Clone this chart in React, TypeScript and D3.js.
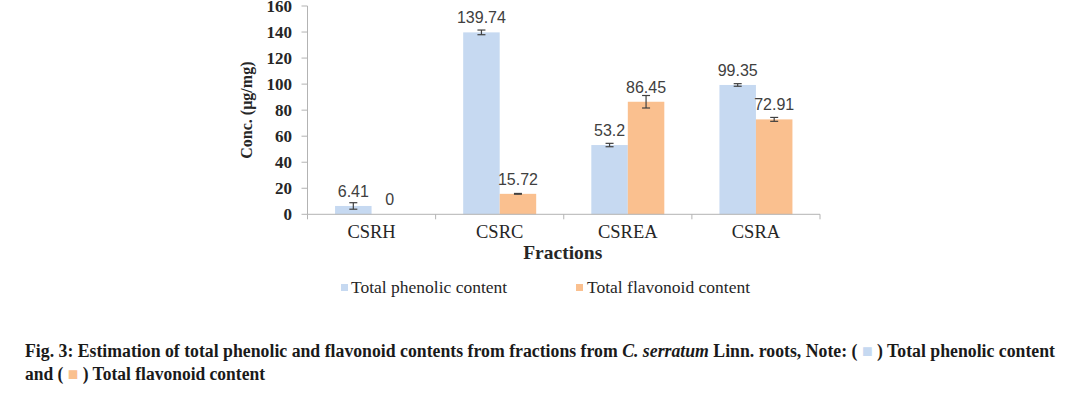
import React from "react";
import * as d3 from "d3";

const categories = ["CSRH", "CSRC", "CSREA", "CSRA"];
const seriesNames = ["Total phenolic content", "Total flavonoid content"];
const phenolic = [6.41, 139.74, 53.2, 99.35];
const flavonoid = [0, 15.72, 86.45, 72.91];
const phenolicErr = [2.5, 1.8, 1.3, 1.0];
const flavonoidErr = [0, 0.3, 4.8, 1.5];
const phenolicLabels = ["6.41", "139.74", "53.2", "99.35"];
const flavonoidLabels = ["0", "15.72", "86.45", "72.91"];
const yTicks = [0, 20, 40, 60, 80, 100, 120, 140, 160];
const colors = ["#c6d9f1", "#fac08f"];

export default function App() {
  const W = 1066, H = 393;
  const left = 307.5, right = 820, top = 6, bottom = 214.3;
  const x = d3.scaleBand<string>().domain(categories).range([left, right]).paddingInner(0).paddingOuter(0);
  const y = d3.scaleLinear().domain([0, 160]).range([bottom, top]);
  const barW = 36.5;
  const series = [
    { name: seriesNames[0], values: phenolic, errs: phenolicErr, labels: phenolicLabels, color: colors[0] },
    { name: seriesNames[1], values: flavonoid, errs: flavonoidErr, labels: flavonoidLabels, color: colors[1] },
  ];
  const serif = "'Liberation Serif', 'Times New Roman', serif";
  const sans = "'Liberation Sans', Arial, sans-serif";
  const axisColor = "#b3b3b3";
  const boundaries = categories.map((c) => x(c)!).concat([right]);

  return (
    <svg width={W} height={H} style={{ position: "absolute", left: 0, top: 0, background: "#fff" }}>
      {/* bars */}
      {series.map((s, si) =>
        categories.map((c, i) => {
          const cx = x(c)! + x.bandwidth() / 2;
          const bx = cx - barW + si * barW;
          const v = s.values[i];
          return <rect key={`${si}-${i}`} x={bx} y={y(v)} width={barW} height={y(0) - y(v)} fill={s.color} />;
        })
      )}
      {/* axes */}
      <line x1={left} x2={left} y1={top} y2={bottom} stroke={axisColor} strokeWidth={1} />
      <line x1={left} x2={right} y1={bottom} y2={bottom} stroke={axisColor} strokeWidth={1} />
      {yTicks.map((t) => (
        <g key={t}>
          <line x1={left - 6} x2={left} y1={y(t)} y2={y(t)} stroke={axisColor} />
          <text x={292} y={y(t) + 5.5} textAnchor="end" fontFamily={serif} fontWeight="bold" fontSize={17} fill="#262626">
            {t}
          </text>
        </g>
      ))}
      {boundaries.map((b, i) => (
        <line key={i} x1={b} x2={b} y1={bottom} y2={bottom + 5} stroke={axisColor} />
      ))}
      {/* error bars & labels */}
      {series.map((s, si) =>
        categories.map((c, i) => {
          const cx = x(c)! + x.bandwidth() / 2;
          const mx = cx - barW / 2 + si * barW;
          const v = s.values[i];
          const e = s.errs[i];
          return (
            <g key={`e${si}-${i}`}>
              {e > 0 && (
                <g stroke="#404040" strokeWidth={1.2}>
                  <line x1={mx} x2={mx} y1={y(v - e)} y2={y(v + e)} />
                  <line x1={mx - 4} x2={mx + 4} y1={y(v - e)} y2={y(v - e)} />
                  <line x1={mx - 4} x2={mx + 4} y1={y(v + e)} y2={y(v + e)} />
                </g>
              )}
              <text x={mx} y={y(v) - 9} textAnchor="middle" fontFamily={sans} fontSize={16} fill="#404040">
                {s.labels[i]}
              </text>
            </g>
          );
        })
      )}
      {/* category labels */}
      {categories.map((c) => (
        <text key={c} x={x(c)! + x.bandwidth() / 2} y={238} textAnchor="middle" fontFamily={serif} fontSize={18.5} fill="#262626">
          {c}
        </text>
      ))}
      <text x={(left + right) / 2 - 1} y={259} textAnchor="middle" fontFamily={serif} fontWeight="bold" fontSize={19.5} fill="#262626">
        Fractions
      </text>
      <text
        transform={`translate(252,${(top + bottom) / 2}) rotate(-90)`}
        textAnchor="middle"
        fontFamily={serif}
        fontWeight="bold"
        fontSize={16}
        fill="#262626"
      >
        Conc. (µg/mg)
      </text>
      {/* legend */}
      <rect x={341} y={284} width={7} height={7} fill={colors[0]} />
      <text x={351} y={293} fontFamily={serif} fontSize={17.5} fill="#262626">
        {seriesNames[0]}
      </text>
      <rect x={576} y={284} width={7} height={7} fill={colors[1]} />
      <text x={587} y={293} fontFamily={serif} fontSize={17.5} fill="#262626">
        {seriesNames[1]}
      </text>
      {/* caption */}
      <text x={25} y={357} fontFamily={serif} fontWeight="bold" fontSize={18} fill="#1a1a1a" textLength={1030} lengthAdjust="spacingAndGlyphs">
        Fig. 3: Estimation of total phenolic and flavonoid contents from fractions from{" "}
        <tspan fontStyle="italic">C. serratum</tspan> Linn. roots, Note: ({" "}
        <tspan fill={colors[0]}>■</tspan> ) Total phenolic content
      </text>
      <text x={25} y={380} fontFamily={serif} fontWeight="bold" fontSize={18} fill="#1a1a1a" textLength={240} lengthAdjust="spacingAndGlyphs">
        and ( <tspan fill={colors[1]}>■</tspan> ) Total flavonoid content
      </text>
    </svg>
  );
}
